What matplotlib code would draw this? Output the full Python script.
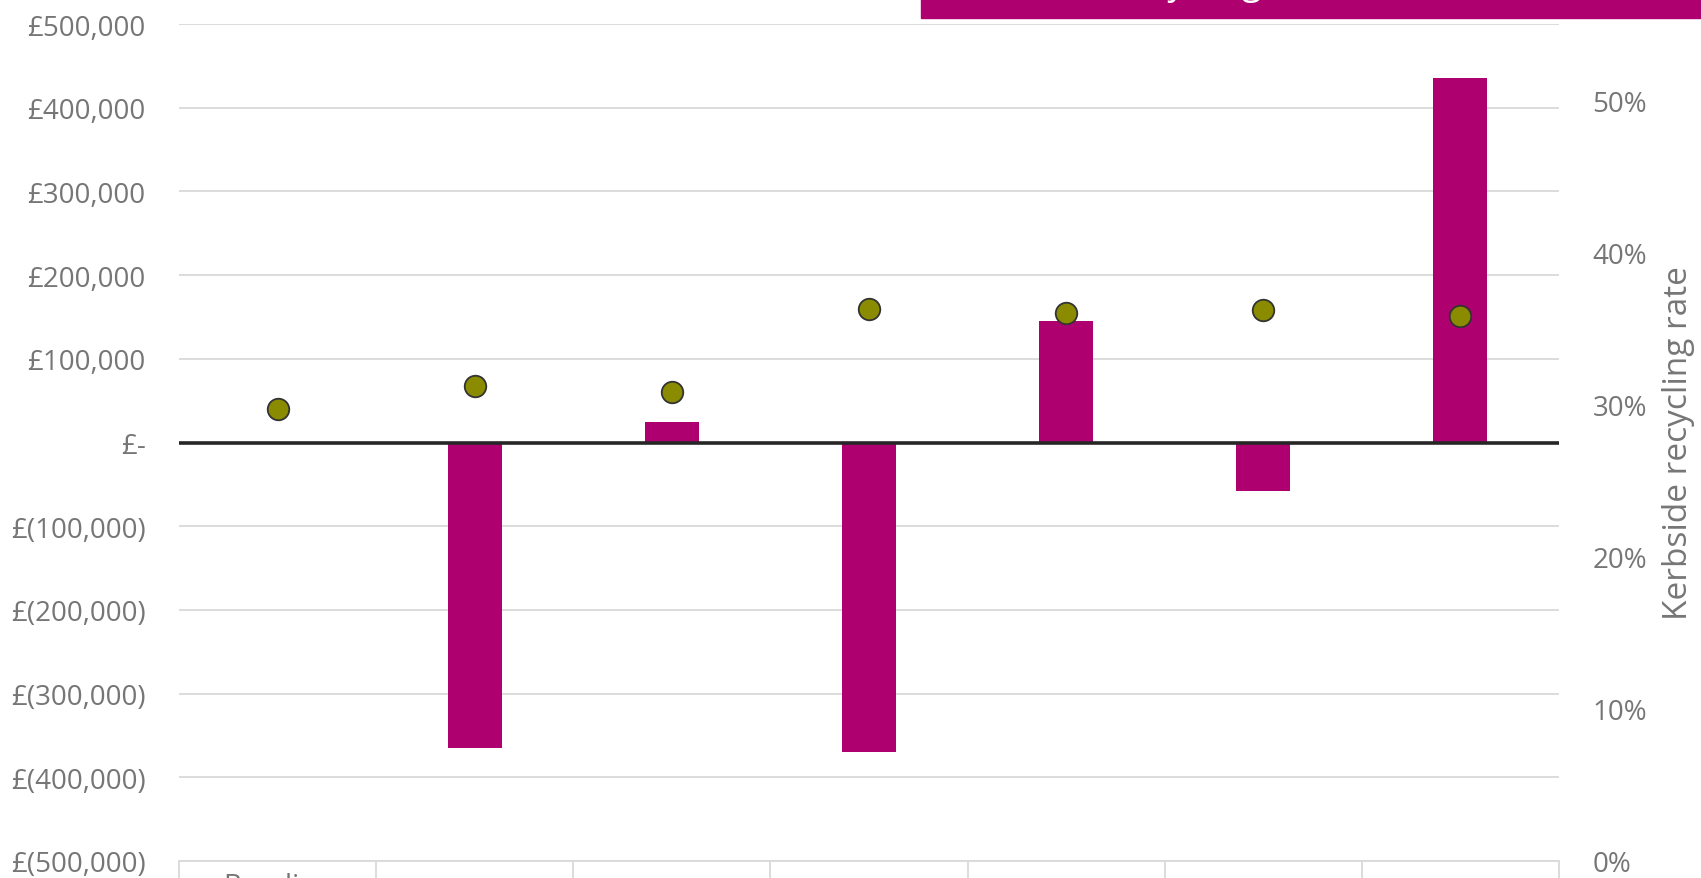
import numpy as np
import matplotlib.pyplot as plt
from matplotlib.ticker import FuncFormatter, MultipleLocator, FixedLocator

plt.rcParams['font.family'] = ['Open Sans', 'DejaVu Sans']

# data
categories = ['Baseline', 'Option 1', 'Option 2', 'Option 3', 'Option 4', 'Option 5', 'Option 6']
tick_labels = ['Baseline', '', '', '', '', '', '']
net_cost = [0, -365000, 25000, -370000, 145000, -58000, 435000]
recycling_rate = [0.297, 0.312, 0.308, 0.363, 0.360, 0.362, 0.358]
title = 'Cost vs recycling rate'

magenta = '#AE006F'
olive = '#8B8B00'
grey_text = '#767676'
grid_col = '#D9D9D9'

fig = plt.figure(figsize=(17.01, 8.79), dpi=100)
ax = fig.add_axes([179 / 1701, 17 / 879, 1380 / 1701, 837 / 879])

x = np.arange(len(categories))
ax.bar(x, net_cost, width=0.274, color=magenta, zorder=2)
ax.axhline(0, color='#262626', lw=2.6, zorder=3)

ax.set_xlim(-0.5, len(categories) - 0.5)
ax.set_ylim(-500000, 500000)
ax.yaxis.set_major_locator(MultipleLocator(100000))
ax.grid(axis='y', color=grid_col, lw=1.3, zorder=0)
ax.set_axisbelow(True)


def money(v, pos):
    v = int(round(v))
    if v == 0:
        return '£-'
    if v < 0:
        return '£({:,})'.format(-v)
    return '£{:,}'.format(v)


ax.yaxis.set_major_formatter(FuncFormatter(money))
ax.tick_params(axis='y', length=0, pad=24, labelsize=20, labelcolor=grey_text)

ax.set_xticks(x)
ax.set_xticklabels(tick_labels)
ax.xaxis.set_minor_locator(FixedLocator(np.arange(-0.5, len(categories), 1.0)))
ax.tick_params(axis='x', which='major', length=0, pad=8, labelsize=20, labelcolor=grey_text)
ax.tick_params(axis='x', which='minor', length=16, width=1.3, color=grid_col, direction='out')

for s in ['top', 'right', 'left']:
    ax.spines[s].set_visible(False)
ax.spines['bottom'].set_color(grid_col)
ax.spines['bottom'].set_linewidth(1.3)

ax2 = ax.twinx()
ax2.plot(x, recycling_rate, 'o', ms=15.5, mfc=olive, mec='#333333', mew=1.3, zorder=4)
ax2.set_ylim(0, 0.55)
ax2.yaxis.set_major_locator(FixedLocator([0, 0.1, 0.2, 0.3, 0.4, 0.5]))
ax2.yaxis.set_major_formatter(FuncFormatter(lambda v, p: '{:.0f}%'.format(v * 100)))
ax2.tick_params(axis='y', length=0, pad=24, labelsize=20, labelcolor=grey_text)
for s in ax2.spines.values():
    s.set_visible(False)
ax2.set_ylabel('Kerbside recycling rate', fontsize=24, color=grey_text, labelpad=11)

# title banner, mostly cut off at the top edge
fig.patches.append(plt.Rectangle((921 / 1701, 1 - 19 / 879), 1 - 921 / 1701, 19 / 879 + 0.01,
                                 transform=fig.transFigure, color=magenta, zorder=5))
fig.text(989 / 1701, 1 + 6 / 879, title, color='white', fontsize=25.7,
         va='baseline', ha='left', zorder=6)

fig.savefig('out.png', dpi=100)
